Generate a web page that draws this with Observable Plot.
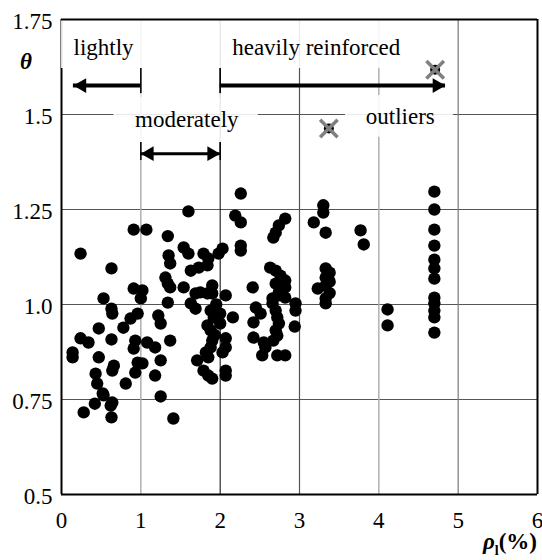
<!DOCTYPE html>
<html>
<head>
<meta charset="utf-8">
<script>
  // start loading the serif faces used below as early as possible
  if (document.fonts) {
    ["23px 'Liberation Serif'", "bold 23px 'Liberation Serif'", "italic bold 23px 'Liberation Serif'", "14px 'Liberation Serif'"]
      .forEach(f => document.fonts.load(f, "lightly 0.75 θρ"));
  }
</script>
<script src="https://cdn.jsdelivr.net/npm/d3@7"></script>
<script src="https://cdn.jsdelivr.net/npm/@observablehq/plot@0.6"></script>
</head>
<body style="margin:0;background:#fff">
<div id="chart" style="position:relative;width:542px;height:560px">
  <div style="position:absolute;left:6px;top:49px;width:40px;text-align:center;line-height:23px;font:bold italic 23px 'Liberation Serif', 'Times New Roman', serif">θ</div>
  <div style="position:absolute;right:5px;top:529px;white-space:nowrap;line-height:23px;font:bold 23px 'Liberation Serif', 'Times New Roman', serif"><i>ρ</i><span style="font-size:14px;position:relative;top:6px">l</span>(%)</div>
</div>
<script>
// Longitudinal reinforcement ratio ρl (%) of each specimen and its model factor θ
const rho = [
  0.24, 0.63, 0.91, 1.07, 0.91, 1.02, 1.00, 0.53, 0.63, 0.64, 0.96, 0.87, 0.78, 0.47, 0.24, 0.34,
  0.63, 0.93, 0.91, 1.08, 1.18, 0.14, 0.14, 0.47, 0.66, 0.64, 0.96, 1.02, 0.93, 1.25, 0.43, 0.45,
  1.18, 0.81, 0.52, 0.53, 0.64, 0.62, 0.42, 0.28, 0.63, 1.25, 1.41, 1.22, 1.25, 1.37, 1.54, 1.34,
  1.34,
  1.60, 1.34, 1.54, 1.60, 1.35, 1.37, 1.79, 1.85, 1.84, 1.73, 1.63, 2.03, 1.98, 1.31, 1.37, 1.69,
  1.75, 1.90, 1.90, 2.07, 1.63, 1.69, 1.84, 1.88, 1.92, 2.00, 2.16, 1.84, 1.88, 2.00, 1.90, 1.88,
  2.07, 2.07, 1.82, 1.85, 2.03, 1.71, 1.79, 1.85, 1.90, 2.07, 2.07, 1.95, 1.93,
  2.26, 2.19, 2.26, 2.26, 2.26, 2.82, 2.74, 2.70, 2.67, 2.63, 2.70, 2.76, 2.82, 2.70, 2.74, 2.82,
  2.41, 2.66, 2.45, 2.51, 2.42, 2.66, 2.70, 2.72, 2.74, 2.70, 2.72, 2.67, 2.42, 2.55, 2.57, 2.53,
  2.72, 2.82, 2.95, 2.95, 2.94, 2.74, 2.82,
  3.30, 3.30, 3.18, 3.33, 3.33, 3.38, 3.33, 3.38, 3.33, 3.23, 3.38, 3.33, 3.33,
  3.77, 3.81, 4.11, 4.11,
  4.70, 4.70, 4.70, 4.70, 4.70, 4.70, 4.70, 4.70, 4.70, 4.70, 4.70, 4.70
];
const theta = [
  1.134, 1.095, 1.197, 1.197, 1.042, 1.037, 1.016, 1.016, 0.989, 0.976, 0.976, 0.963, 0.939, 0.937, 0.911, 0.900,
  0.908, 0.905, 0.884, 0.900, 0.887, 0.874, 0.861, 0.861, 0.839, 0.826, 0.847, 0.845, 0.821, 0.853, 0.818, 0.792,
  0.813, 0.792, 0.766, 0.761, 0.742, 0.734, 0.739, 0.716, 0.703, 0.758, 0.700, 0.971, 0.950, 0.905, 1.045, 1.055,
  1.005,
  1.245, 1.180, 1.150, 1.134, 1.129, 1.108, 1.134, 1.121, 1.103, 1.097, 1.089, 1.147, 1.134, 1.071, 1.045, 1.029,
  1.032, 1.050, 1.029, 1.024, 1.003, 0.989, 1.029, 0.984, 0.966, 0.976, 0.966, 0.945, 0.932, 0.950, 0.905, 0.887,
  0.911, 0.887, 0.874, 0.861, 0.874, 0.853, 0.826, 0.813, 0.805, 0.826, 0.813, 1.000, 0.920,
  1.292, 1.234, 1.216, 1.155, 1.142, 1.226, 1.208, 1.189, 1.176, 1.097, 1.089, 1.076, 1.063, 1.055, 1.032, 1.045,
  1.045, 1.016, 0.992, 0.976, 0.953, 1.003, 0.984, 0.966, 0.950, 0.932, 0.918, 0.905, 0.913, 0.900, 0.887, 0.866,
  0.866, 0.866, 1.003, 0.984, 0.942, 1.024, 1.018,
  1.261, 1.242, 1.216, 1.189, 1.095, 1.084, 1.071, 1.060, 1.050, 1.042, 1.030, 1.016, 1.003,
  1.195, 1.158, 0.987, 0.945,
  1.297, 1.250, 1.197, 1.155, 1.118, 1.095, 1.068, 1.018, 1.003, 0.984, 0.966, 0.926
];

// Specimens excluded as outliers
const outlierRho = [3.37, 4.71];
const outlierTheta = [1.463, 1.618];

// Axis ticks and their labels
const xTicks = [0, 1, 2, 3, 4, 5, 6];
const xTickLabels = ["0", "1", "2", "3", "4", "5", "6"];
const yTicks = [0.5, 0.75, 1, 1.25, 1.5, 1.75];
const yTickLabels = ["0.5", "0.75", "1.0", "1.25", "1.5", "1.75"];

// Reinforcement zones: label text and where it sits
const zoneLabels = ["lightly", "heavily reinforced", "moderately", "outliers"];
const zoneLabelRho = [0.53, 3.21, 1.58, 4.27];
const zoneLabelTheta = [1.675, 1.675, 1.486, 1.495];

// Zone arrows: start (with an end bar), tip, height, double-headed or not
const arrowTail = [1, 2, 1];
const arrowTip = [0.15, 4.84, 2];
const arrowTheta = [1.576, 1.576, 1.397];
const arrowDouble = [false, false, true];

// White panels behind the zone labels
const boxRho1 = [0, 0.66, 3.58];
const boxRho2 = [4.45, 2.48, 4.94];
const boxTheta1 = [1.621, 1.426, 1.44];
const boxTheta2 = [1.75, 1.555, 1.55];

const points = rho.map((r, i) => ({rho: r, theta: theta[i]}));
const outliers = outlierRho.map((r, i) => ({rho: r, theta: outlierTheta[i]}));
const labels = zoneLabels.map((t, i) => ({text: t, rho: zoneLabelRho[i], theta: zoneLabelTheta[i]}));
const boxes = boxRho1.map((r, i) => ({x1: r, x2: boxRho2[i], y1: boxTheta1[i], y2: boxTheta2[i]}));
const arrows = arrowTail.map((t, i) => ({tail: t, tip: arrowTip[i], theta: arrowTheta[i], double: arrowDouble[i]}));

// arrowheads: one at every tip, plus one at the tail of double-headed arrows
const heads = [];
const bars = [];
for (const a of arrows) {
  const dir = Math.sign(a.tip - a.tail);
  heads.push({rho: a.tip, theta: a.theta, dir});
  const up = a.double ? 0.029 : 0.045, down = a.double ? 0.018 : 0.031;
  if (a.double) {
    heads.push({rho: a.tail, theta: a.theta, dir: -dir});
    bars.push({rho: a.tip, y1: a.theta - down, y2: a.theta + up});
  }
  bars.push({rho: a.tail, y1: a.theta - down, y2: a.theta + up});
}
const mainBars = bars.filter(b => b.y2 - b.y1 > 0.06);
const smallBars = bars.filter(b => b.y2 - b.y1 <= 0.06);

const font = "Liberation Serif";
const tipOffset = 8.5;

const chart = Plot.plot({
  width: 542,
  height: 560,
  marginLeft: 61,
  marginRight: 5,
  marginTop: 19,
  marginBottom: 66,
  style: {fontFamily: font, fontSize: "23px"},
  x: {domain: [0, 6]},
  y: {domain: [0.5, 1.75]},
  marks: [
    // grid
    Plot.ruleY(yTicks.slice(1, -1), {stroke: "#555", strokeWidth: 1}),
    Plot.ruleX([1, 4], {stroke: "#b0b0b0", strokeWidth: 1.5}),
    Plot.ruleX([3], {stroke: "#555", strokeWidth: 1.2}),
    Plot.ruleX([5], {stroke: "#777", strokeWidth: 1.2}),
    Plot.ruleX([2], {stroke: "#000", strokeWidth: 1}),
    // frame
    Plot.ruleX([0, 6], {stroke: "#000", strokeWidth: 2}),
    Plot.ruleY([0.5], {stroke: "#000", strokeWidth: 2}),
    // end bars of the wide arrows
    Plot.ruleX(mainBars, {x: "rho", y1: "y1", y2: "y2", stroke: "#000", strokeWidth: 1.5}),
    // label panels
    Plot.rect(boxes, {x1: "x1", x2: "x2", y1: "y1", y2: "y2", fill: "#fff", fillOpacity: 0.88}),
    Plot.ruleY([1.75], {stroke: "#000", strokeWidth: 2}),
    Plot.ruleX(smallBars, {x: "rho", y1: "y1", y2: "y2", stroke: "#000", strokeWidth: 1.5}),
    // arrows
    Plot.ruleY(arrows.filter(a => !a.double), {x1: "tail", x2: "tip", y: "theta", stroke: "#000", strokeWidth: 4}),
    Plot.ruleY(arrows.filter(a => a.double), {x1: "tail", x2: "tip", y: "theta", stroke: "#000", strokeWidth: 3}),
    Plot.dot(heads.filter(h => h.dir > 0), {x: "rho", y: "theta", symbol: "triangle", r: 5.5, rotate: 90, dx: -tipOffset, fill: "#000"}),
    Plot.dot(heads.filter(h => h.dir < 0), {x: "rho", y: "theta", symbol: "triangle", r: 5.5, rotate: -90, dx: tipOffset, fill: "#000"}),
    // specimens
    Plot.dot(points, {x: "rho", y: "theta", r: 6.2, fill: "#000"}),
    Plot.dot(outliers, {x: "rho", y: "theta", r: 5, fill: "#000"}),
    Plot.dot(outliers, {x: "rho", y: "theta", symbol: "times", r: 8, stroke: "#808080", strokeWidth: 3.5}),
    // zone labels
    Plot.text(labels, {x: "rho", y: "theta", text: "text", fontSize: 23, fontFamily: font, fill: "#000"}),
    // axes
    Plot.axisX({ticks: xTicks, tickSize: 0, tickPadding: 17, label: null, fontSize: 23, fontFamily: font,
      tickFormat: d => xTickLabels[xTicks.indexOf(d)]}),
    Plot.axisY({ticks: yTicks, tickSize: 0, tickPadding: 9, label: null, fontSize: 23, fontFamily: font, dy: 2,
      tickFormat: d => yTickLabels[yTicks.indexOf(d)]})
  ]
});

chart.style.display = "block";
const container = document.getElementById("chart");
container.insertBefore(chart, container.firstChild);
</script>
</body>
</html>
